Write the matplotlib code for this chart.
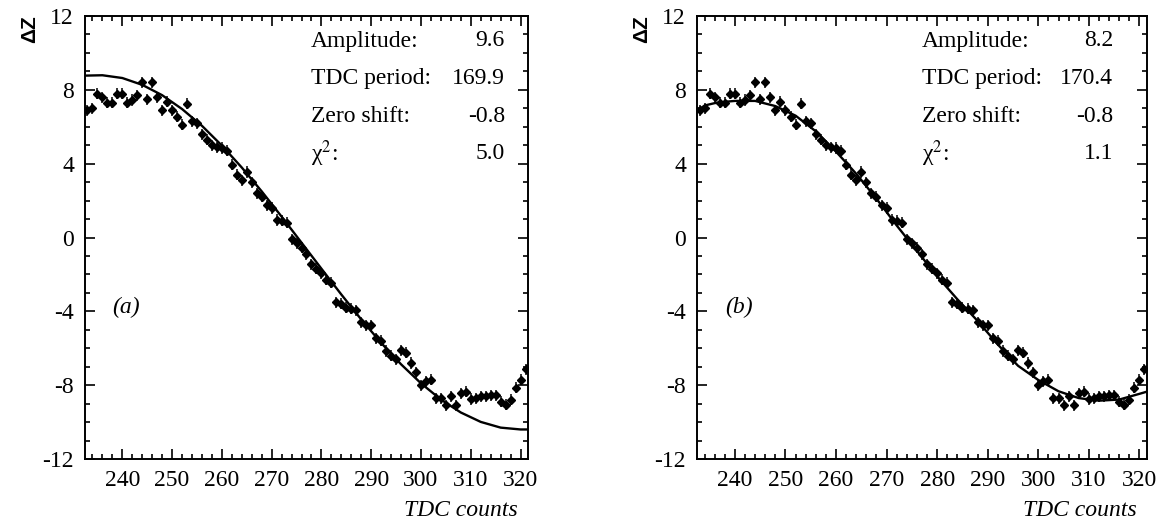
import numpy as np
import matplotlib
matplotlib.use("Agg")
from matplotlib import pyplot as plt
from matplotlib.ticker import MultipleLocator

plt.rcParams['font.family'] = ['Liberation Serif', 'DejaVu Serif']
plt.rcParams['mathtext.fontset'] = 'stix'
plt.rcParams['axes.unicode_minus'] = False

# measured points (same data in both panels)
tdc = np.arange(233, 322)
dz = [6.9, 7.0, 7.8, 7.6, 7.3, 7.3, 7.8, 7.8, 7.3, 7.45,
      7.7, 8.4, 7.5, 8.4, 7.6, 6.9, 7.35, 6.9, 6.55, 6.1,
      7.25, 6.3, 6.2, 5.6, 5.3, 5.0, 4.9, 4.85, 4.7, 3.95,
      3.4, 3.1, 3.55, 3.0, 2.4, 2.2, 1.75, 1.6, 0.95, 0.9,
      0.8, -0.1, -0.3, -0.55, -0.9, -1.45, -1.7, -1.95, -2.3, -2.45,
      -3.5, -3.6, -3.8, -3.85, -3.95, -4.6, -4.75, -4.75, -5.45, -5.6,
      -6.15, -6.4, -6.6, -6.1, -6.25, -6.8, -7.3, -8.0, -7.8, -7.7,
      -8.7, -8.7, -9.1, -8.6, -9.1, -8.45, -8.35, -8.75, -8.7, -8.6,
      -8.6, -8.55, -8.55, -8.9, -9.05, -8.8, -8.15, -7.7, -7.15]
dz_err = 0.3
tdc_err = 0.5

# fitted curves
fit_x_a = [232.5, 236, 240, 244, 248, 252, 256, 260, 264, 268, 272, 276, 280,
           284, 288, 292, 296, 300, 304, 308, 312, 316, 320, 321.5]
fit_y_a = [8.77, 8.79, 8.64, 8.27, 7.71, 6.96, 6.05, 4.98, 3.79, 2.50, 1.13, -0.28,
           -1.69, -3.09, -4.44, -5.71, -6.87, -7.90, -8.78, -9.48, -9.99, -10.30,
           -10.40, -10.40]
fit_x_b = [232.5, 234, 236, 238, 240, 244, 248, 252, 256, 260, 264, 268, 272, 276,
           280, 284, 288, 292, 296, 300, 304, 308, 312, 316, 320, 321.5]
fit_y_b = [6.85, 7.15, 7.28, 7.35, 7.4, 7.4, 7.12, 6.6, 5.75, 4.65, 3.45, 2.1, 0.65,
           -0.73, -2.1, -3.35, -4.52, -5.8, -6.95, -7.72, -8.33, -8.7, -8.84, -8.78,
           -8.47, -8.35]

par_names = ["Amplitude:", "TDC period:", "Zero shift:", "χ$^{2}$:"]
par_a = ["9.6", "169.9", "-0.8", "5.0"]
par_b = ["8.2", "170.4", "-0.8", "1.1"]

W, H = 1173, 523
fig = plt.figure(figsize=(W / 100, H / 100), dpi=100)

panels = [
    (85, 528, fit_x_a, fit_y_a, par_a, "(a)", 311, 505),
    (697, 1147, fit_x_b, fit_y_b, par_b, "(b)", 922, 1113),
]
top, bottom = 16, 459

for left, right, fx, fy, pars, tag, tx, vx in panels:
    ax = fig.add_axes([left / W, 1 - bottom / H, (right - left) / W, (bottom - top) / H])
    ax.errorbar(tdc, dz, xerr=tdc_err, yerr=dz_err, fmt='D', ms=3.8, color='black',
                elinewidth=1.1, capsize=0)
    ax.plot(fx, fy, color='black', lw=1.7)
    ax.set_xlim(232.5, 321.5)
    ax.set_ylim(-12, 12)
    ax.xaxis.set_major_locator(MultipleLocator(10))
    ax.xaxis.set_minor_locator(MultipleLocator(2))
    ax.yaxis.set_major_locator(MultipleLocator(4))
    ax.yaxis.set_minor_locator(MultipleLocator(1))
    ax.tick_params(which='both', direction='in', top=True, right=True,
                   labelsize=17, width=1.2)
    ax.tick_params(which='major', length=7, pad=8)
    ax.tick_params(which='minor', length=3.5)
    for s in ax.spines.values():
        s.set_linewidth(1.4)

    # fit parameter box
    for i, (name, val) in enumerate(zip(par_names, pars)):
        yy = (41 + i * 37.5) / H
        fig.text(tx / W, 1 - yy, name, fontsize=17, va='center', ha='left')
        fig.text(vx / W, 1 - yy, val, fontsize=17, va='center', ha='right')

    ax.text(0.062, 0.343, tag, transform=ax.transAxes, fontsize=17,
            style='italic', va='center', ha='left')
    fig.text((right - 10) / W, 1 - 511 / H, "TDC counts", fontsize=17,
             style='italic', ha='right', va='center')
    fig.text((left - 55) / W, 1 - 29 / H, "ΔZ", fontsize=15, family='Liberation Sans',
             weight='bold', rotation=90, ha='center', va='center')

fig.savefig("out.png", dpi=100)
